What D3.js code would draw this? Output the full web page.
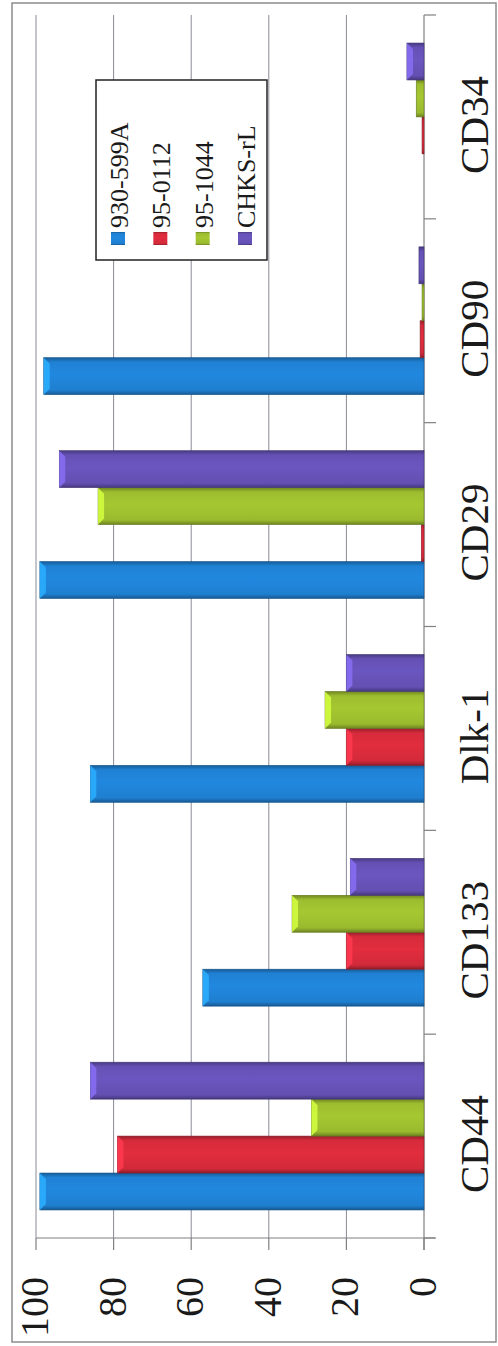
<!DOCTYPE html>
<html>
<head>
<meta charset="utf-8">
<script src="https://cdn.jsdelivr.net/npm/d3@7"></script>
<style>
  body { margin: 0; background: #fff; }
  text { font-family: "Liberation Serif", "Times New Roman", serif; fill: #1a1a1a; }
</style>
</head>
<body>
<div id="root"></div>
<script>
const width = 498
const height = 1346

const categories = ['CD44', 'CD133', 'Dlk-1', 'CD29', 'CD90', 'CD34']
const seriesNames = ['930-599A', '95-0112', '95-1044', 'CHKS-rL']
const v930 = [99, 57, 86, 99, 98, 0]
const v0112 = [79, 20, 20, 0.7, 1, 0.5]
const v1044 = [29, 34, 25.5, 84, 0.5, 2]
const vChks = [86, 19, 20, 94, 1.3, 4.4]
const valueTicks = [0, 20, 40, 60, 80, 100]
const colors = ['#1f7fd0', '#d22a3a', '#9aba2e', '#6350b2']

const seriesValues = [v930, v0112, v1044, vChks]

const svg = d3.select('#root').append('svg')
  .attr('width', width)
  .attr('height', height)

// chart is drawn rotated: values run right-to-left, categories bottom-to-top
const x = d3.scaleLinear().domain([0, 100]).range([424, 36])
const y = d3.scaleBand().domain(categories).range([1238, 15])
  .paddingInner(0.275).paddingOuter(0.1375)
const ySub = d3.scaleBand().domain(seriesNames).range([y.bandwidth(), 0])
const step = y.step()

// outer frame
svg.append('rect')
  .attr('x', 12).attr('y', 3).attr('width', 484).attr('height', 1339)
  .attr('fill', 'none').attr('stroke', '#8c8c8c').attr('stroke-width', 1.5)

// gradients
const defs = svg.append('defs')
colors.forEach((c, i) => {
  const g = defs.append('linearGradient').attr('id', 'g' + i)
    .attr('x1', 0).attr('y1', 0).attr('x2', 0).attr('y2', 1)
  const base = d3.color(c)
  g.append('stop').attr('offset', '0%').attr('stop-color', base.darker(0.9))
  g.append('stop').attr('offset', '12%').attr('stop-color', base.brighter(0.05))
  g.append('stop').attr('offset', '45%').attr('stop-color', base.brighter(0.2))
  g.append('stop').attr('offset', '88%').attr('stop-color', base)
  g.append('stop').attr('offset', '100%').attr('stop-color', base.darker(1))
})

// gridlines
svg.append('g').selectAll('line')
  .data(valueTicks.filter(d => d > 0))
  .join('line')
  .attr('x1', d => x(d)).attr('x2', d => x(d))
  .attr('y1', 15).attr('y2', 1238)
  .attr('stroke', '#8a8a98').attr('stroke-width', 1)

// value axis (along the bottom)
svg.append('line')
  .attr('x1', x(100)).attr('x2', 435).attr('y1', 1238).attr('y2', 1238)
  .attr('stroke', '#808080').attr('stroke-width', 1.2)
svg.append('g').selectAll('line')
  .data(valueTicks)
  .join('line')
  .attr('x1', d => x(d)).attr('x2', d => x(d))
  .attr('y1', 1238).attr('y2', 1250)
  .attr('stroke', '#808080').attr('stroke-width', 1.2)
svg.append('g').selectAll('text')
  .data(valueTicks)
  .join('text')
  .attr('transform', d => `translate(${x(d) - 2},1277) rotate(-90)`)
  .attr('dy', '0.35em')
  .attr('text-anchor', 'end')
  .attr('font-size', 40)
  .text(d => d)

// category axis (along the right)
svg.append('line')
  .attr('x1', x(0)).attr('x2', x(0)).attr('y1', 15).attr('y2', 1250)
  .attr('stroke', '#808080').attr('stroke-width', 1.2)
svg.append('g').selectAll('line')
  .data(d3.range(categories.length + 1))
  .join('line')
  .attr('x1', x(0)).attr('x2', 436)
  .attr('y1', i => 1238 - i * step).attr('y2', i => 1238 - i * step)
  .attr('stroke', '#808080').attr('stroke-width', 1.2)
svg.append('g').selectAll('text')
  .data(categories)
  .join('text')
  .attr('transform', d => `translate(474,${y(d) + y.bandwidth() / 2 + 8}) rotate(-90)`)
  .attr('dy', '0.35em')
  .attr('text-anchor', 'middle')
  .attr('font-size', 41)
  .text(d => d)

// bars
const rows = []
categories.forEach((c, ci) => {
  seriesNames.forEach((s, si) => {
    rows.push({ cat: c, series: s, si, value: seriesValues[si][ci] })
  })
})

const bars = svg.append('g').selectAll('g')
  .data(rows)
  .join('g')
  .attr('transform', d => `translate(0,${y(d.cat) + ySub(d.series)})`)

const bh = ySub.bandwidth()
bars.append('rect')
  .attr('x', d => x(d.value))
  .attr('y', 0)
  .attr('width', d => x(0) - x(d.value))
  .attr('height', bh)
  .attr('fill', d => `url(#g${d.si})`)
  .attr('stroke', d => d3.color(colors[d.si]).darker(1.2))
  .attr('stroke-width', 0.6)

// bevel on the far end of each bar
bars.filter(d => x(0) - x(d.value) > 10)
  .append('path')
  .attr('d', d => {
    const x0 = x(d.value)
    const b = 6
    return `M${x0},0 L${x0 + b},${b} L${x0 + b},${bh - b} L${x0},${bh} Z`
  })
  .attr('fill', d => d3.color(colors[d.si]).brighter(0.9))
  .attr('opacity', 0.85)

// legend
const lg = svg.append('g')
lg.append('rect')
  .attr('x', 96).attr('y', 80).attr('width', 171).attr('height', 180)
  .attr('fill', '#fff').attr('stroke', '#222').attr('stroke-width', 1.5)
const lx = d3.scalePoint().domain(seriesNames).range([118, 245])
const items = lg.selectAll('g')
  .data(seriesNames)
  .join('g')
  .attr('transform', d => `translate(${lx(d)},0)`)
items.append('rect')
  .attr('x', -7).attr('y', 232).attr('width', 14).attr('height', 13)
  .attr('fill', (d, i) => `url(#g${i})`)
items.append('text')
  .attr('transform', 'translate(1,228) rotate(-90)')
  .attr('dy', '0.35em')
  .attr('font-size', 26)
  .text(d => d)
</script>
</body>
</html>
